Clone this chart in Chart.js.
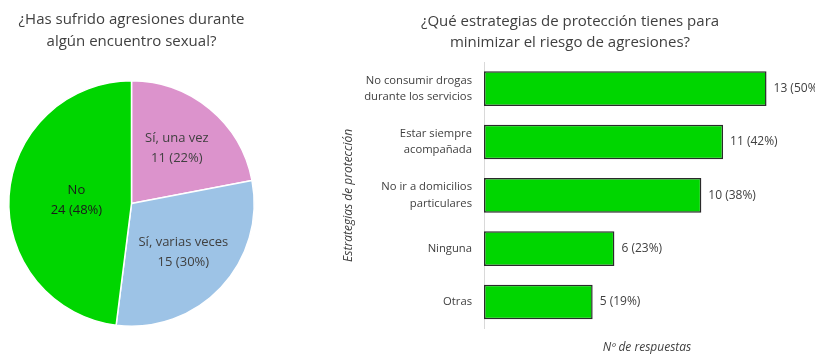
<!DOCTYPE html>
<html>
<head>
<meta charset="utf-8">
<script src="https://cdn.jsdelivr.net/npm/chart.js@4/dist/chart.umd.min.js"></script>
<style>
  html, body { margin: 0; padding: 0; background: #fff; }
  body { width: 815px; height: 357px; position: relative; overflow: hidden; }
  #pieBox { position: absolute; left: 0; top: 0; width: 263px; height: 357px; }
  #barBox { position: absolute; left: 330px; top: 0; width: 485px; height: 357px; }
</style>
</head>
<body>
<div id="pieBox"><canvas id="pie"></canvas></div>
<div id="barBox"><canvas id="bar"></canvas></div>
<script>
// datos del grafico de tarta
const pieLabels = ['Sí, una vez', 'Sí, varias veces', 'No'];
const pieValues = [11, 15, 24];
const piePercents = [22, 30, 48];

// datos del grafico de barras
const barLabels = [
  ['No consumir drogas', 'durante los servicios'],
  ['Estar siempre', 'acompañada'],
  ['No ir a domicilios', 'particulares'],
  'Ninguna',
  'Otras'
];
const barValues = [13, 11, 10, 6, 5];
const barPercents = [50, 42, 38, 23, 19];

const FONT = "'Open Sans', 'Liberation Sans', sans-serif";
const TEXT = '#404040';

function makeCharts() {
  let ePie = document.querySelector('#pie');
  let eBar = document.querySelector('#bar');

  // etiquetas dentro de cada porcion
  const labelRadius = [0.58, 0.58, 0.45];
  const labelColor = ['#404040', '#404040', '#1a1a1a'];
  const pieLabelPlugin = {
    id: 'pieLabels',
    afterDatasetsDraw(chart) {
      const ctx = chart.ctx;
      const meta = chart.getDatasetMeta(0);
      meta.data.forEach((arc, i) => {
        const p = arc.getProps(['x', 'y', 'startAngle', 'endAngle', 'outerRadius'], true);
        const mid = (p.startAngle + p.endAngle) / 2;
        const r = p.outerRadius * labelRadius[i];
        const x = p.x + Math.cos(mid) * r;
        const y = p.y + Math.sin(mid) * r;
        ctx.save();
        ctx.font = '13px ' + FONT;
        ctx.fillStyle = labelColor[i];
        ctx.textAlign = 'center';
        ctx.textBaseline = 'middle';
        ctx.fillText(pieLabels[i], x, y - 10);
        ctx.fillText(pieValues[i] + ' (' + piePercents[i] + '%)', x, y + 10);
        ctx.restore();
      });
    }
  };

  let chartPie = new Chart(ePie, {
    type: 'pie',
    data: {
      labels: pieLabels,
      datasets: [{
        data: pieValues,
        backgroundColor: ['#DC93CC', '#9DC3E6', '#00D600'],
        borderColor: '#ffffff',
        borderWidth: 1.5
      }]
    },
    options: {
      responsive: true,
      maintainAspectRatio: false,
      animation: false,
      layout: { padding: { bottom: 30 } },
      plugins: {
        legend: { display: false },
        tooltip: { enabled: false },
        title: {
          display: true,
          text: ['¿Has sufrido agresiones durante', 'algún encuentro sexual?'],
          color: TEXT,
          font: { family: FONT, size: 15, weight: 'normal', lineHeight: 1.47 },
          padding: { top: 9, bottom: 27 }
        }
      }
    },
    plugins: [pieLabelPlugin]
  });

  // texto a la derecha de cada barra
  const barValuePlugin = {
    id: 'barValues',
    afterDatasetsDraw(chart) {
      const ctx = chart.ctx;
      const meta = chart.getDatasetMeta(0);
      meta.data.forEach((bar, i) => {
        ctx.save();
        ctx.font = '12px ' + FONT;
        ctx.fillStyle = TEXT;
        ctx.textAlign = 'left';
        ctx.textBaseline = 'middle';
        ctx.fillText(barValues[i] + ' (' + barPercents[i] + '%)', bar.x + 7, bar.y);
        ctx.restore();
      });
    }
  };

  let chartBar = new Chart(eBar, {
    type: 'bar',
    data: {
      labels: barLabels,
      datasets: [{
        data: barValues,
        backgroundColor: '#00D600',
        borderColor: '#2a2a2a',
        borderWidth: 1.5,
        borderSkipped: false,
        barPercentage: 0.65,
        categoryPercentage: 1
      }]
    },
    options: {
      indexAxis: 'y',
      responsive: true,
      maintainAspectRatio: false,
      animation: false,
      layout: { padding: { right: 5 } },
      plugins: {
        legend: { display: false },
        tooltip: { enabled: false },
        title: {
          display: true,
          text: ['¿Qué estrategias de protección tienes para', 'minimizar el riesgo de agresiones?'],
          color: TEXT,
          font: { family: FONT, size: 15, weight: 'normal', lineHeight: 1.4 },
          padding: { top: 11, bottom: 9 }
        }
      },
      scales: {
        x: {
          min: 0,
          max: 15,
          ticks: { display: false },
          grid: { display: false },
          border: { display: false },
          title: {
            display: true,
            text: 'Nº de respuestas',
            color: TEXT,
            font: { family: FONT, size: 12, style: 'italic', lineHeight: 1.2 },
            padding: { top: 4, bottom: 0 }
          }
        },
        y: {
          grid: { display: false, drawTicks: false },
          border: { display: true, color: '#D9D9D9', width: 1 },
          ticks: {
            color: TEXT,
            padding: 12,
            font: { family: FONT, size: 11.25, lineHeight: 1.45 }
          },
          title: {
            display: true,
            text: 'Estrategias de protección',
            color: TEXT,
            font: { family: FONT, size: 12, style: 'italic', lineHeight: 1.2 },
            padding: { top: 11, bottom: 0 }
          },
          afterFit(scale) {
            scale.width = 154;
          }
        }
      }
    },
    plugins: [barValuePlugin]
  });
}

makeCharts();
</script>
</body>
</html>
